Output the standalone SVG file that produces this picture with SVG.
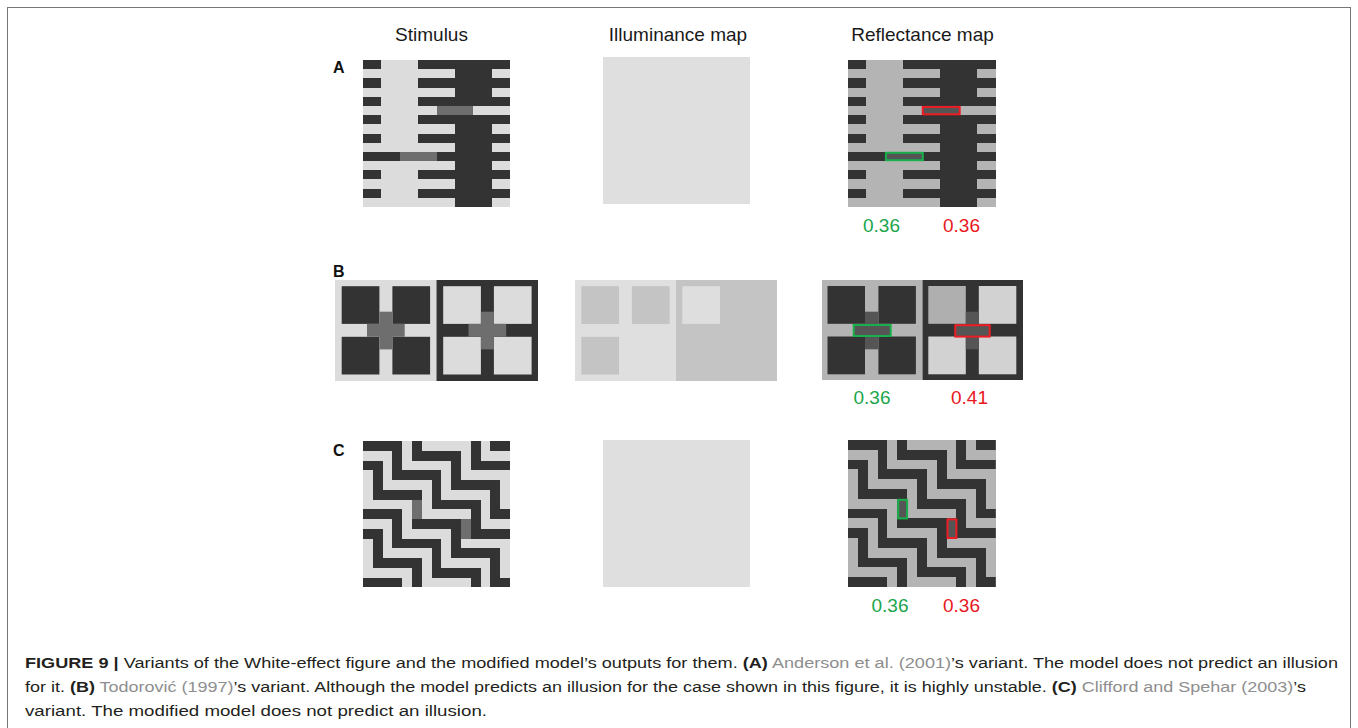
<svg xmlns="http://www.w3.org/2000/svg" xmlns:xlink="http://www.w3.org/1999/xlink" width="1358" height="728" viewBox="0 0 1358 728">
<style>
.hdr{font-family:"Liberation Sans",Arial,sans-serif;font-size:19px;fill:#1a1a1a;text-anchor:middle}
.lbl{font-family:"Liberation Sans",Arial,sans-serif;font-size:16px;font-weight:bold;fill:#111}
.num{font-family:"Liberation Sans",Arial,sans-serif;font-size:19px;text-anchor:middle}
.gn{fill:#1aa64b}.rd{fill:#e8181e}
.cap{font-family:"Liberation Sans",Arial,sans-serif;font-size:15.5px;fill:#231f20}
.b{font-weight:bold}.ref{fill:#8e8e8e}
.lt{fill:#dcdcdc}.dk{fill:#333333}.md{fill:#b4b4b4}.gy{fill:#6e6e6e}.pt{fill:#555555}
.il{fill:#dfdfdf}.il2{fill:#c4c4c4}
.og{fill:none;stroke:#19b04b;stroke-width:2}.or{fill:none;stroke:#ee1c24;stroke-width:2}
.pat{shape-rendering:crispEdges}
</style>
<defs>
<clipPath id="clip15"><rect x="0" y="0" width="15" height="15"/></clipPath>
<g id="a16">
<rect x="5" y="0" width="2" height="5"/><rect x="5" y="6" width="2" height="10"/>
<rect x="0" y="0" width="1" height="1"/><rect x="3" y="0" width="5" height="1"/>
<rect x="0" y="2" width="1" height="1"/><rect x="3" y="2" width="5" height="1"/>
<rect x="0" y="4" width="1" height="1"/><rect x="3" y="4" width="5" height="1"/>
<rect x="0" y="6" width="1" height="1"/><rect x="3" y="6" width="5" height="1"/>
<rect x="0" y="8" width="1" height="1"/><rect x="3" y="8" width="5" height="1"/>
<rect x="0" y="10" width="2" height="1"/><rect x="4" y="10" width="4" height="1"/>
<rect x="0" y="12" width="1" height="1"/><rect x="3" y="12" width="5" height="1"/>
<rect x="0" y="14" width="1" height="1"/><rect x="3" y="14" width="5" height="1"/>
</g>
<g id="c7">
<rect x="0" y="0" width="4" height="1"/><rect x="5" y="0" width="1" height="1"/><rect x="11" y="0" width="1" height="1"/><rect x="13" y="0" width="2" height="1"/>
<rect x="3" y="1" width="1" height="1"/><rect x="5" y="1" width="5" height="1"/><rect x="11" y="1" width="1" height="1"/>
<rect x="0" y="2" width="2" height="1"/><rect x="3" y="2" width="1" height="1"/><rect x="9" y="2" width="1" height="1"/><rect x="11" y="2" width="4" height="1"/>
<rect x="1" y="3" width="1" height="1"/><rect x="3" y="3" width="5" height="1"/><rect x="9" y="3" width="1" height="1"/>
<rect x="1" y="4" width="1" height="1"/><rect x="7" y="4" width="1" height="1"/><rect x="9" y="4" width="5" height="1"/>
<rect x="1" y="5" width="5" height="1"/><rect x="7" y="5" width="1" height="1"/><rect x="13" y="5" width="1" height="1"/>
<rect x="5" y="6" width="1" height="1"/><rect x="7" y="6" width="5" height="1"/><rect x="13" y="6" width="1" height="1"/>
</g>
<g id="c15"><use xlink:href="#c7"/><use xlink:href="#c7" y="7"/><use xlink:href="#c7" y="14"/></g>
</defs>

<rect id="frame" x="7.5" y="7.5" width="1343" height="740" fill="none" stroke="#777" stroke-width="1"/>

<g id="headers">
<text class="hdr" x="431.5" y="41">Stimulus</text>
<text class="hdr" x="678" y="41">Illuminance map</text>
<text class="hdr" x="922.5" y="41">Reflectance map</text>
</g>

<g id="panel-labels">
<text class="lbl" x="333" y="73">A</text>
<text class="lbl" x="333" y="277">B</text>
<text class="lbl" x="333" y="456">C</text>
</g>

<!-- Row A -->
<g id="A-stimulus" class="pat" transform="translate(363,60) scale(18.375,9.1875)">
<rect width="8" height="16" class="lt"/>
<g class="dk"><use xlink:href="#a16"/></g>
<rect x="4" y="5" width="2" height="1" class="gy"/>
<rect x="2" y="10" width="2" height="1" class="gy"/>
</g>
<g id="A-illuminance"><rect x="603" y="57" width="147" height="147" class="il"/></g>
<g id="A-reflectance">
<g class="pat" transform="translate(848,60) scale(18.45,9.1875)">
<rect width="8" height="16" class="md"/>
<g class="dk"><use xlink:href="#a16"/></g>
<rect x="4" y="5" width="2" height="1" class="pt"/>
<rect x="2" y="10" width="2" height="1" class="pt"/>
</g>
<rect x="922.8" y="106.9" width="36.9" height="7.4" class="or"/>
<rect x="885.9" y="152.8" width="36.9" height="7.4" class="og"/>
<text class="num gn" x="881.5" y="231.5">0.36</text>
<text class="num rd" x="961.5" y="231.5">0.36</text>
</g>

<!-- Row B -->
<g id="B-stimulus">
<rect x="335" y="280" width="101.5" height="101" class="lt"/>
<rect x="436.5" y="280" width="101.5" height="101" class="dk"/>
<g class="dk">
<rect x="341.7" y="286.2" width="37.7" height="37.7"/><rect x="392.4" y="286.2" width="37.7" height="37.7"/>
<rect x="341.7" y="336.8" width="37.7" height="37.7"/><rect x="392.4" y="336.8" width="37.7" height="37.7"/>
</g>
<g class="lt">
<rect x="443.2" y="286.2" width="37.7" height="37.7"/><rect x="493.9" y="286.2" width="37.7" height="37.7"/>
<rect x="443.2" y="336.8" width="37.7" height="37.7"/><rect x="493.9" y="336.8" width="37.7" height="37.7"/>
</g>
<g class="gy">
<rect x="379.4" y="311.7" width="13" height="37.7"/><rect x="367" y="323.9" width="37.7" height="12.9"/>
<rect x="480.9" y="311.7" width="13" height="37.7"/><rect x="468.5" y="323.9" width="37.7" height="12.9"/>
</g>
</g>

<g id="B-illuminance">
<rect x="575" y="280" width="101" height="101" class="il"/>
<rect x="676" y="280" width="101" height="101" class="il2"/>
<g class="il2">
<rect x="581.3" y="286.2" width="37.7" height="37.7"/><rect x="631.9" y="286.2" width="37.7" height="37.7"/>
<rect x="581.3" y="336.8" width="37.7" height="37.7"/>
</g>
<rect x="682.3" y="286.2" width="37.7" height="37.7" fill="#dedede"/>
</g>

<g id="B-reflectance">
<rect x="822" y="280" width="100.5" height="100" class="md"/>
<rect x="922.5" y="280" width="100.5" height="100" class="dk"/>
<g class="dk">
<rect x="827.5" y="286" width="37.5" height="37.8"/><rect x="878.4" y="286" width="37.5" height="37.8"/>
<rect x="827.5" y="336.5" width="37.5" height="37.8"/><rect x="878.4" y="336.5" width="37.5" height="37.8"/>
</g>
<rect x="928.3" y="286" width="37.5" height="37.8" fill="#afafaf"/>
<g fill="#d2d2d2">
<rect x="978.8" y="286" width="37.5" height="37.8"/>
<rect x="928.3" y="336.5" width="37.5" height="37.8"/><rect x="978.8" y="336.5" width="37.5" height="37.8"/>
</g>
<g class="pt">
<rect x="865" y="311.7" width="13.4" height="37.6"/><rect x="853.7" y="324" width="37" height="12.5"/>
<rect x="965.8" y="311.7" width="13" height="37.6"/><rect x="955.3" y="324.2" width="34.4" height="12.4"/>
</g>
<rect x="853.7" y="325" width="37" height="11" class="og"/>
<rect x="955.3" y="325.2" width="34.4" height="11.4" class="or"/>
<text class="num gn" x="872" y="403.5">0.36</text>
<text class="num rd" x="969.5" y="403.5">0.41</text>
</g>

<!-- Row C -->
<g id="C-stimulus" class="pat" transform="translate(363,441) scale(9.8,9.75)">
<rect width="15" height="15" class="lt"/>
<g class="dk" clip-path="url(#clip15)"><use xlink:href="#c15"/></g>
<rect x="5" y="6" width="1" height="2" class="gy"/>
<rect x="10" y="8" width="1" height="2" class="gy"/>
</g>
<g id="C-illuminance"><rect x="603" y="440" width="147" height="147" class="il"/></g>
<g id="C-reflectance">
<g class="pat" transform="translate(848,440) scale(9.85,9.8)">
<rect width="15" height="15" class="md"/>
<g class="dk" clip-path="url(#clip15)"><use xlink:href="#c15"/></g>
<rect x="5" y="6" width="1" height="2" class="pt"/>
<rect x="10" y="8" width="1" height="2" class="pt"/>
</g>
<rect x="898.2" y="499.8" width="8.9" height="18.6" class="og"/>
<rect x="947.5" y="519.4" width="8.9" height="18.6" class="or"/>
<text class="num gn" x="890" y="611.5">0.36</text>
<text class="num rd" x="961.5" y="611.5">0.36</text>
</g>

<g id="caption">
<text class="cap" x="25" y="668" textLength="1313" lengthAdjust="spacingAndGlyphs"><tspan class="b">FIGURE 9 |</tspan> Variants of the White-effect figure and the modified model’s outputs for them. <tspan class="b">(A)</tspan> <tspan class="ref">Anderson et al. (2001)</tspan>’s variant. The model does not predict an illusion</text>
<text class="cap" x="25" y="692" textLength="1281" lengthAdjust="spacingAndGlyphs">for it. <tspan class="b">(B)</tspan> <tspan class="ref">Todorović (1997)</tspan>’s variant. Although the model predicts an illusion for the case shown in this figure, it is highly unstable. <tspan class="b">(C)</tspan> <tspan class="ref">Clifford and Spehar (2003)</tspan>’s</text>
<text class="cap" x="25" y="716" textLength="462" lengthAdjust="spacingAndGlyphs">variant. The modified model does not predict an illusion.</text>
</g>
</svg>
